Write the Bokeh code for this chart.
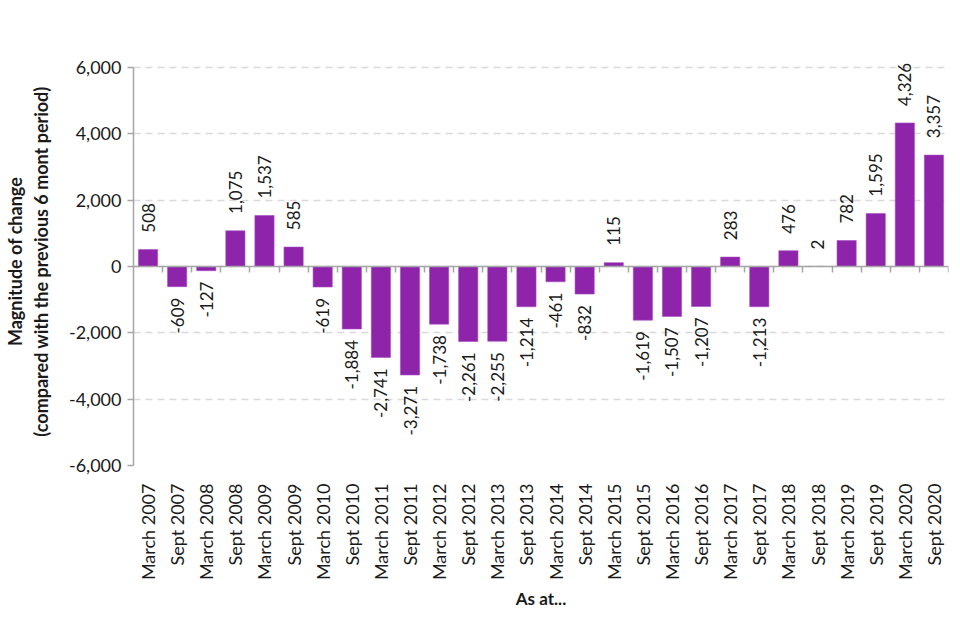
import math
from bokeh.plotting import figure
from bokeh.models import (Range1d, FixedTicker, LinearAxis, ColumnDataSource,
                          NumeralTickFormatter, LabelSet)
from bokeh.core.properties import value
from bokeh.embed import file_html
from bokeh.resources import INLINE

categories = [
    "March 2007", "Sept 2007", "March 2008", "Sept 2008", "March 2009", "Sept 2009",
    "March 2010", "Sept 2010", "March 2011", "Sept 2011", "March 2012", "Sept 2012",
    "March 2013", "Sept 2013", "March 2014", "Sept 2014", "March 2015", "Sept 2015",
    "March 2016", "Sept 2016", "March 2017", "Sept 2017", "March 2018", "Sept 2018",
    "March 2019", "Sept 2019", "March 2020", "Sept 2020",
]
values = [
    508, -609, -127, 1075, 1537, 585,
    -619, -1884, -2741, -3271, -1738, -2261,
    -2255, -1214, -461, -832, 115, -1619,
    -1507, -1207, 283, -1213, 476, 2,
    782, 1595, 4326, 3357,
]
y_ticks = [-6000, -4000, -2000, 0, 2000, 4000, 6000]

y_title = "Magnitude of change\n(compared with the previous 6 mont period)"
x_title = "As at..."

FONT = "Lato"
BAR = "#8E24AA"
AXIS = "#a6a6a6"
TXT = "#1a1a1a"

n = len(categories)
xs = list(range(n))

# a little head-room above the top tick so the tallest data label is not clipped
y_lo, y_hi = y_ticks[0], y_ticks[-1] + 300

p = figure(frame_width=815, frame_height=408, output_backend="svg",
           toolbar_location=None,
           x_range=Range1d(-0.5, n - 0.5), y_range=Range1d(y_lo, y_hi),
           min_border_left=125, min_border_right=4, min_border_top=57,
           min_border_bottom=150)
p.outline_line_color = None
p.background_fill_color = "white"
p.border_fill_color = "white"

# grid
p.xgrid.visible = False
p.ygrid.ticker = FixedTicker(ticks=y_ticks)
p.ygrid.grid_line_color = "#d9d9d9"
p.ygrid.grid_line_dash = "7 5"
p.ygrid.grid_line_width = 1.5

# bars
src = ColumnDataSource(dict(x=xs, v=values))
p.vbar(x="x", top="v", bottom=0, width=0.66, source=src,
       fill_color=BAR, line_color="#a64dc4", line_width=0.6)

# data labels (offset in data units from bar end)
pos = [(i, v) for i, v in zip(xs, values) if v >= 0]
neg = [(i, v) for i, v in zip(xs, values) if v < 0]
pos_src = ColumnDataSource(dict(x=[a for a, _ in pos], y=[b + 510 for _, b in pos],
                                t=[f"{b:,}" for _, b in pos]))
neg_src = ColumnDataSource(dict(x=[a for a, _ in neg], y=[b - 330 for _, b in neg],
                                t=[f"{b:,}" for _, b in neg]))
for s, align in ((pos_src, "left"), (neg_src, "right")):
    p.add_layout(LabelSet(x="x", y="y", text="t", source=s, angle=math.pi / 2,
                          text_align=align, text_baseline="middle",
                          text_font=value(FONT), text_font_size="17px",
                          text_color=TXT))

# bottom category labels
xa = p.xaxis[0]
xa.ticker = FixedTicker(ticks=xs)
xa.major_label_overrides = {i: c for i, c in enumerate(categories)}
xa.major_label_orientation = math.pi / 2
xa.axis_line_color = None
xa.major_tick_line_color = None
xa.minor_tick_line_color = None
xa.major_label_standoff = 12
xa.major_label_text_font = FONT
xa.major_label_text_font_size = "18px"
xa.major_label_text_color = TXT
xa.axis_label = x_title
xa.axis_label_text_font = FONT
xa.axis_label_text_font_style = "bold"
xa.axis_label_text_font_size = "17px"
xa.axis_label_text_color = TXT
xa.axis_label_standoff = 5

# zero line axis with boundary ticks
zero_axis = LinearAxis(fixed_location=0,
                       ticker=FixedTicker(ticks=[i + 0.5 for i in xs]),
                       axis_line_color=AXIS, axis_line_width=1.5,
                       major_tick_line_color=AXIS, major_tick_line_width=1.5,
                       major_tick_in=0, major_tick_out=6,
                       minor_tick_line_color=None,
                       major_label_text_font_size="0px",
                       major_label_text_color=None)
p.add_layout(zero_axis, "below")

# y axis
ya = p.yaxis[0]
ya.ticker = FixedTicker(ticks=y_ticks)
ya.bounds = (y_ticks[0], y_ticks[-1])
ya.formatter = NumeralTickFormatter(format="0,0")
ya.axis_line_color = AXIS
ya.axis_line_width = 1.5
ya.major_tick_line_color = AXIS
ya.major_tick_line_width = 1.5
ya.major_tick_in = 0
ya.major_tick_out = 6
ya.minor_tick_line_color = None
ya.major_label_standoff = 6
ya.major_label_text_font = FONT
ya.major_label_text_font_size = "18px"
ya.major_label_text_color = TXT
ya.axis_label = y_title
ya.axis_label_text_font = FONT
ya.axis_label_text_font_style = "bold"
ya.axis_label_text_font_size = "18px"
ya.axis_label_text_color = TXT
ya.axis_label_standoff = 14

open("out.html", "w").write(file_html(p, INLINE))
